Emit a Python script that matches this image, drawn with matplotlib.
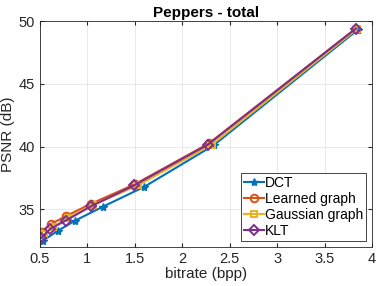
import matplotlib
matplotlib.use("Agg")
import matplotlib.pyplot as plt

plt.rcParams['font.family'] = ['Liberation Sans', 'DejaVu Sans']

dct_x = [0.53, 0.69, 0.87, 1.16, 1.60, 2.33, 3.85]
dct_y = [32.5, 33.3, 34.1, 35.2, 36.8, 40.1, 49.3]
lg_x = [0.52, 0.62, 0.77, 1.04, 1.50, 2.28, 3.83]
lg_y = [33.2, 33.85, 34.45, 35.45, 37.0, 40.25, 49.4]
gg_x = [0.54, 0.64, 0.79, 1.06, 1.53, 2.31, 3.84]
gg_y = [33.0, 33.6, 34.3, 35.35, 36.9, 40.15, 49.35]
klt_x = [0.51, 0.61, 0.77, 1.04, 1.49, 2.27, 3.83]
klt_y = [32.7, 33.45, 34.1, 35.25, 36.9, 40.15, 49.4]

fig = plt.figure(figsize=(3.82, 2.86), dpi=100)
ax = fig.add_axes([40/382, 1-247/286, 332/382, 226/286])

lw = 1.5
ax.plot(dct_x, dct_y, '-*', color='#0072BD', lw=lw, ms=6, label='DCT')
ax.plot(lg_x, lg_y, '-o', color='#D95319', lw=lw, ms=5.5, mfc='none', mew=1.4, label='Learned graph')
ax.plot(gg_x, gg_y, '-s', color='#EDB120', lw=lw, ms=5, mfc='none', mew=1.4, label='Gaussian graph')
ax.plot(klt_x, klt_y, '-D', color='#7E2F8E', lw=lw, ms=5.5, mfc='none', mew=1.4, label='KLT')

ax.set_xlim(0.5, 4)
ax.set_ylim(32, 50)
ax.set_xticks([0.5, 1, 1.5, 2, 2.5, 3, 3.5, 4])
ax.set_xticklabels(['0.5', '1', '1.5', '2', '2.5', '3', '3.5', '4'])
ax.set_yticks([35, 40, 45, 50])
ax.grid(True, color='#e6e6e6', lw=0.6)
ax.tick_params(direction='in', length=3, labelsize=10.5, colors='#262626', top=True, right=True)
for s in ax.spines.values():
    s.set_color('#262626')
    s.set_linewidth(0.6)
ax.set_xlabel('bitrate (bpp)', fontsize=11, color='#262626', labelpad=1)
ax.set_ylabel('PSNR (dB)', fontsize=11, color='#262626', labelpad=3)
ax.set_title('Peppers - total', fontsize=11, fontweight='bold', pad=3)
leg = ax.legend(loc='lower right', bbox_to_anchor=(366/382, 1-241/286), bbox_transform=fig.transFigure,
                fontsize=10, handlelength=1.4, handletextpad=0.1,
                borderpad=0.2, labelspacing=0.15, fancybox=False, framealpha=1,
                edgecolor='#262626', borderaxespad=0)
leg.get_frame().set_linewidth(0.6)
fig.savefig('out.png', dpi=100)
